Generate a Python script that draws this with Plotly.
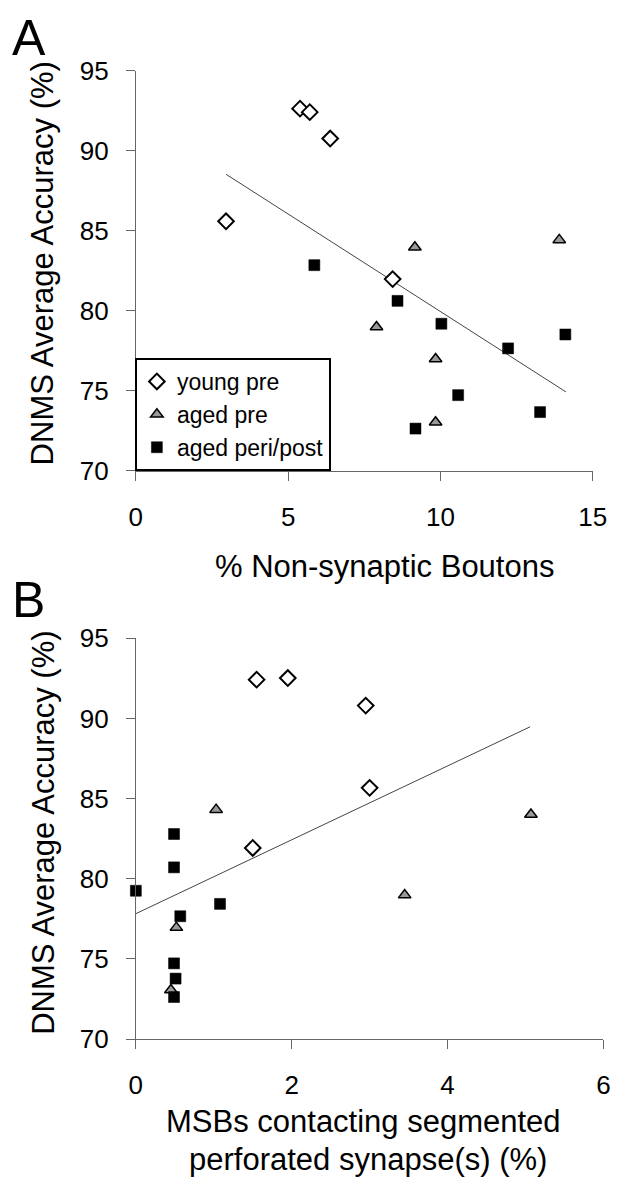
import plotly.graph_objects as go

W, H = 629, 1199
FONT = "Liberation Sans, Arial, sans-serif"

# ---------------- Panel A data ----------------
young_a_x = [5.39, 5.71, 6.38, 2.96, 8.43]
young_a_y = [92.64, 92.42, 90.77, 85.6, 81.99]
agedpre_a_x = [9.16, 13.9, 7.9, 9.84, 9.84]
agedpre_a_y = [83.98, 84.44, 79.0, 77.0, 73.05]
agedpost_a_x = [5.86, 8.59, 10.03, 12.22, 14.1, 10.58, 9.18, 13.27]
agedpost_a_y = [82.86, 80.63, 79.2, 77.66, 78.53, 74.74, 72.65, 73.68]
trend_a_x = [2.96, 14.12]
trend_a_y = [88.54, 74.94]

# ---------------- Panel B data ----------------
young_b_x = [1.55, 1.95, 2.95, 3.0, 1.5]
young_b_y = [92.42, 92.52, 90.8, 85.67, 81.92]
agedpre_b_x = [1.03, 5.07, 3.45, 0.52, 0.45]
agedpre_b_y = [84.31, 84.01, 78.98, 76.95, 73.06]
agedpost_b_x = [0.49, 0.49, 0.0, 1.08, 0.57, 0.49, 0.51, 0.49]
agedpost_b_y = [82.79, 80.71, 79.25, 78.43, 77.66, 74.72, 73.77, 72.62]
trend_b_x = [0.0, 5.06]
trend_b_y = [77.82, 89.48]

series_names = ["young pre", "aged pre", "aged peri/post"]
x_ticks_a = [0, 5, 10, 15]
x_ticks_b = [0, 2, 4, 6]
y_ticks = [70, 75, 80, 85, 90, 95]

styles = [
    dict(symbol="diamond", size=12, color="white", line=dict(color="black", width=2)),
    dict(symbol="triangle-up", size=11, color="#9a9a9a", line=dict(color="black", width=1.5)),
    dict(symbol="square", size=11, color="black", line=dict(color="black", width=0.5)),
]

fig = go.Figure()

panel_a = [(young_a_x, young_a_y), (agedpre_a_x, agedpre_a_y), (agedpost_a_x, agedpost_a_y)]
panel_b = [(young_b_x, young_b_y), (agedpre_b_x, agedpre_b_y), (agedpost_b_x, agedpost_b_y)]

fig.add_trace(go.Scatter(x=trend_a_x, y=trend_a_y, mode="lines", line=dict(color="#444", width=1),
                         showlegend=False, xaxis="x", yaxis="y"))
fig.add_trace(go.Scatter(x=trend_b_x, y=trend_b_y, mode="lines", line=dict(color="#444", width=1),
                         showlegend=False, xaxis="x2", yaxis="y2"))

for name, (xs, ys), st in zip(series_names, panel_a, styles):
    fig.add_trace(go.Scatter(x=xs, y=ys, mode="markers", name=name, marker=st,
                             cliponaxis=False, xaxis="x", yaxis="y"))
for name, (xs, ys), st in zip(series_names, panel_b, styles):
    fig.add_trace(go.Scatter(x=xs, y=ys, mode="markers", name=name, marker=st,
                             cliponaxis=False, showlegend=False, xaxis="x2", yaxis="y2"))

axis_common = dict(showgrid=False, zeroline=False, showline=True, linecolor="#666", linewidth=1,
                   ticks="outside", ticklen=9, tickcolor="#666", tickwidth=1,
                   tickfont=dict(family=FONT, size=26, color="black"))

fig.update_layout(
    width=W, height=H,
    margin=dict(l=0, r=0, t=0, b=0),
    paper_bgcolor="white", plot_bgcolor="white",
    font=dict(family=FONT, color="black"),
    xaxis=dict(domain=[133.3 / W, 606 / W], range=[0, 15], tickvals=x_ticks_a,
               ticklabelstandoff=14, anchor="y", **axis_common),
    yaxis=dict(domain=[1 - 467.7 / H, 1 - 57.3 / H], range=[70, 95], tickvals=y_ticks,
               ticklabelstandoff=12, anchor="x", **axis_common),
    xaxis2=dict(domain=[133.3 / W, 617 / W], range=[0, 6], tickvals=x_ticks_b,
                ticklabelstandoff=14, anchor="y2", **axis_common),
    yaxis2=dict(domain=[1 - 1050.3 / H, 1 - 639.3 / H], range=[70, 95], tickvals=y_ticks,
                ticklabelstandoff=12, anchor="x2", **axis_common),
    legend=dict(x=132.3 / W, y=1 - 467.7 / H, xanchor="left", yanchor="bottom",
                bordercolor="black", borderwidth=2, bgcolor="white",
                font=dict(family=FONT, size=23, color="black"),
                tracegroupgap=0, itemsizing="trace"),
)

def ann(text, xpx, ypx, size, angle=0):
    fig.add_annotation(text=text, x=xpx / W, y=1 - ypx / H, xref="paper", yref="paper",
                       xanchor="center", yanchor="middle", showarrow=False, textangle=angle,
                       font=dict(family=FONT, size=size, color="black"))

ann("A", 22.5, 24, 50)
ann("B", 22.5, 600.5, 50)
ann("DNMS Average Accuracy (%)", 37, 255, 31, -90)
ann("DNMS Average Accuracy (%)", 37, 839, 31, -90)
ann("% Non-synaptic Boutons", 391, 566, 31)
ann("MSBs contacting segmented", 369, 1135, 31)
ann("perforated synapse(s) (%)", 373, 1174, 31)

fig.write_html("out.html", config={"displayModeBar": False},
               post_script="document.body.style.margin='0';document.body.style.overflow='hidden';")
